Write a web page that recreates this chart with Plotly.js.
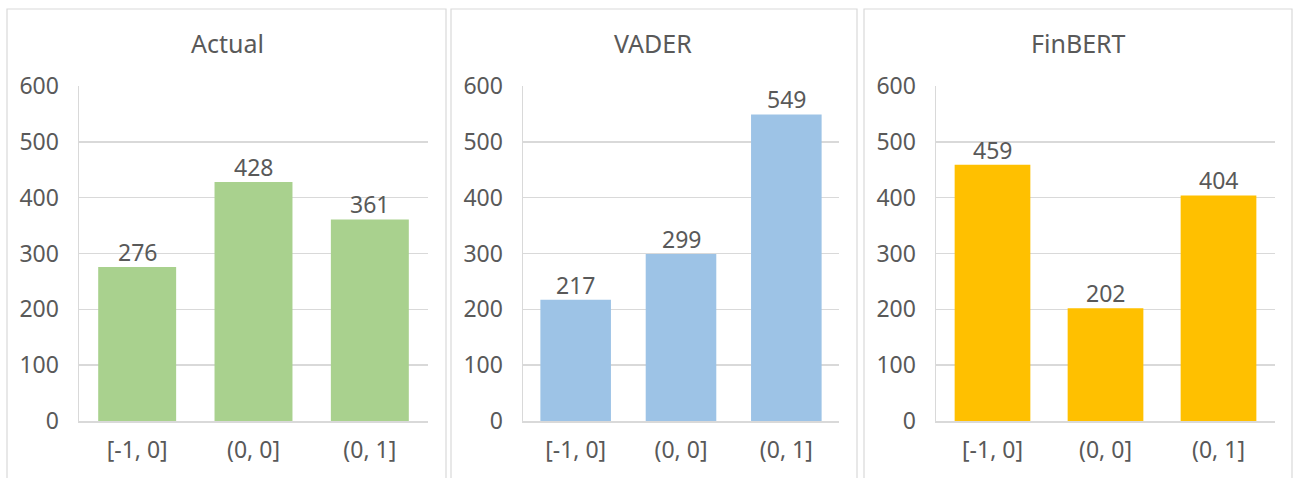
<!DOCTYPE html>
<html>
<head>
<meta charset="utf-8">
<script src="https://cdn.plot.ly/plotly-3.0.1.min.js"></script>
<style>html,body{margin:0;padding:0;background:#fff;}#chart{width:1297px;height:478px;}</style>
</head>
<body>
<div id="chart"></div>
<script>
const categories = ['[-1, 0]', '(0, 0]', '(0, 1]'];
const actualValues = [276, 428, 361];
const vaderValues = [217, 299, 549];
const finbertValues = [459, 202, 404];
const panelTitles = ['Actual', 'VADER', 'FinBERT'];
const yTickValues = [0, 100, 200, 300, 400, 500, 600];

const W = 1297, H = 478;
const FONT = '"Noto Sans", "Open Sans", sans-serif';
const TXT = '#595959';
const GRID = '#d9d9d9';
const colors = ['#A9D18E', '#9DC3E6', '#FFC000'];
const series = [actualValues, vaderValues, finbertValues];

// plot-area pixel extents per panel
const plotX = [[79, 428], [523, 839], [936, 1275]];
const boxX = [[7, 446], [451, 857], [864, 1292]];
const titleX = [227, 653, 1078];
const yTop = 86, yBot = 421;

const traces = series.map((vals, i) => ({
  type: 'bar',
  x: categories,
  y: vals,
  xaxis: i === 0 ? 'x' : 'x' + (i + 1),
  yaxis: i === 0 ? 'y' : 'y' + (i + 1),
  marker: {color: colors[i]},
  cliponaxis: false,
  hoverinfo: 'skip'
}));

const layout = {
  width: W, height: H,
  margin: {l: 0, r: 0, t: 0, b: 0},
  paper_bgcolor: '#fff', plot_bgcolor: '#fff',
  showlegend: false,
  bargap: 0.33,
  font: {family: FONT, color: TXT},
  shapes: [], annotations: []
};

for (let i = 0; i < 3; i++) {
  const sfx = i === 0 ? '' : String(i + 1);
  layout['xaxis' + sfx] = {
    domain: [plotX[i][0] / W, plotX[i][1] / W],
    anchor: 'y' + sfx,
    type: 'category',
    showgrid: false,
    showline: true, linecolor: GRID, linewidth: 1.5,
    ticks: '', ticklabelstandoff: 8,
    tickfont: {family: FONT, size: 23, color: TXT},
    fixedrange: true
  };
  layout['yaxis' + sfx] = {
    domain: [1 - yBot / H, 1 - yTop / H],
    anchor: 'x' + sfx,
    range: [0, 600],
    tickvals: yTickValues,
    showgrid: true, gridcolor: GRID, gridwidth: 1.5,
    zeroline: false,
    showline: true, linecolor: GRID, linewidth: 1.5,
    ticks: '', ticklabelstandoff: 14,
    tickfont: {family: FONT, size: 23, color: TXT},
    fixedrange: true
  };
  layout.shapes.push({
    type: 'rect', xref: 'paper', yref: 'paper',
    x0: boxX[i][0] / W, x1: boxX[i][1] / W,
    y0: -0.05, y1: 1 - 9 / H,
    line: {color: GRID, width: 1.2}, fillcolor: 'rgba(0,0,0,0)', layer: 'below'
  });
  layout.annotations.push({
    xref: 'paper', yref: 'paper',
    x: titleX[i] / W, y: 1 - 43 / H,
    xanchor: 'center', yanchor: 'middle',
    text: panelTitles[i], showarrow: false,
    font: {family: FONT, size: 25, color: TXT}
  });
  series[i].forEach((v, j) => {
    layout.annotations.push({
      xref: 'x' + sfx, yref: 'y' + sfx,
      x: categories[j], y: v,
      xanchor: 'center', yanchor: 'bottom', yshift: -3,
      text: String(v), showarrow: false,
      font: {family: FONT, size: 23, color: TXT}
    });
  });
}

Plotly.newPlot('chart', traces, layout, {displayModeBar: false, staticPlot: true});
</script>
</body>
</html>
